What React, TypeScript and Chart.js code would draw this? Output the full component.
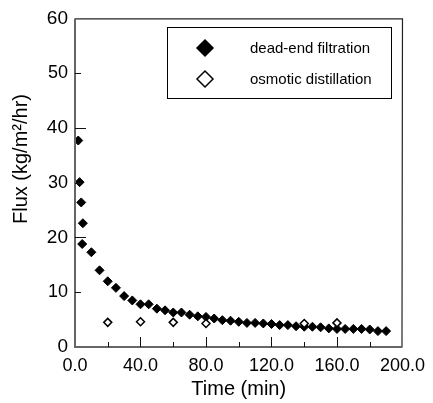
import React, { useEffect, useRef } from "react";
import { Chart, registerables } from "chart.js";

Chart.register(...registerables);

const seriesNames = ["dead-end filtration", "osmotic distillation"];

const deadEndTime = [2, 2.8, 3.8, 4.8, 4.4, 10, 15, 20, 25, 30, 35, 40, 45, 50, 55, 60, 65, 70, 75, 80, 85, 90, 95, 100, 105, 110, 115, 120, 125, 130, 135, 140, 145, 150, 155, 160, 165, 170, 175, 180, 185, 190];
const deadEndFlux = [37.7, 30.1, 26.4, 22.6, 18.8, 17.3, 14.0, 12.0, 10.8, 9.3, 8.5, 7.8, 7.8, 7.0, 6.7, 6.3, 6.3, 5.9, 5.6, 5.5, 5.2, 4.9, 4.8, 4.6, 4.4, 4.4, 4.3, 4.2, 4.0, 4.0, 3.8, 3.7, 3.7, 3.6, 3.4, 3.3, 3.3, 3.3, 3.3, 3.2, 2.9, 2.9];

const osmoticTime = [20, 40, 60, 80, 140, 160];
const osmoticFlux = [4.5, 4.6, 4.5, 4.3, 4.3, 4.4];

const xMin = 0, xMax = 200, xMajorStep = 40, xMinorStep = 20;
const yMin = 0, yMax = 60, yMajorStep = 20, yLabelStep = 10;

const xTitle = "Time (min)";
const yTitle = "Flux (kg/m\u00B2/hr)";

const FONT = "'Liberation Sans', Arial, Helvetica, sans-serif";

function diamond(ctx: CanvasRenderingContext2D, x: number, y: number, r: number, fill: string) {
  ctx.beginPath();
  ctx.moveTo(x, y - r);
  ctx.lineTo(x + r, y);
  ctx.lineTo(x, y + r);
  ctx.lineTo(x - r, y);
  ctx.closePath();
  ctx.fillStyle = fill;
  ctx.fill();
  ctx.lineWidth = 1.5;
  ctx.strokeStyle = "#000";
  ctx.stroke();
}

const framePlugin = {
  id: "frame",
  afterDatasetsDraw(chart: any) {
    const { ctx, chartArea, scales } = chart;
    const { left, right, top, bottom } = chartArea;
    const xs = scales.x, ys = scales.y;
    ctx.save();
    // frame
    ctx.strokeStyle = "#222";
    ctx.lineWidth = 1.2;
    ctx.beginPath();
    ctx.moveTo(left, top + 0.5);
    ctx.lineTo(right, top + 0.5);
    ctx.lineTo(right - 0.5, bottom);
    ctx.stroke();
    ctx.strokeStyle = "#666";
    ctx.lineWidth = 2;
    ctx.beginPath();
    ctx.moveTo(left, top);
    ctx.lineTo(left, bottom);
    ctx.lineTo(right, bottom);
    ctx.stroke();
    // inside ticks
    ctx.strokeStyle = "#111";
    ctx.lineWidth = 1;
    for (let v = xMin + xMinorStep; v < xMax; v += xMinorStep) {
      const px = Math.round(xs.getPixelForValue(v)) + 0.5;
      const len = v % xMajorStep === 0 ? 10 : 5;
      ctx.beginPath();
      ctx.moveTo(px, bottom);
      ctx.lineTo(px, bottom - len);
      ctx.stroke();
    }
    for (let v = yMin + yLabelStep; v < yMax; v += yLabelStep) {
      const py = Math.round(ys.getPixelForValue(v)) + 0.5;
      const len = v % yMajorStep === 0 ? 11 : 6;
      ctx.beginPath();
      ctx.moveTo(left, py);
      ctx.lineTo(left + len, py);
      ctx.stroke();
    }
    // y title
    ctx.save();
    ctx.translate(27, 159);
    ctx.rotate(-Math.PI / 2);
    ctx.font = `20px ${FONT}`;
    ctx.fillStyle = "#000";
    ctx.textAlign = "center";
    ctx.textBaseline = "alphabetic";
    ctx.fillText(yTitle, 0, 0);
    ctx.restore();
    // legend
    ctx.strokeStyle = "#000";
    ctx.lineWidth = 1;
    ctx.strokeRect(167.5, 27.5, 224, 71);
    const fills = ["#000", "#fff"];
    const ly = [48, 79];
    ctx.font = `15px ${FONT}`;
    ctx.textAlign = "left";
    ctx.textBaseline = "middle";
    for (let i = 0; i < seriesNames.length; i++) {
      diamond(ctx, 205, ly[i], 8, fills[i]);
      ctx.fillStyle = "#000";
      ctx.fillText(seriesNames[i], 250, ly[i] + 1);
    }
    ctx.restore();
  },
};

export default function App() {
  const ref = useRef<HTMLCanvasElement>(null);
  useEffect(() => {
    const canvas = ref.current!;
    const chart = new Chart(canvas, {
      type: "scatter",
      data: {
        datasets: [
          {
            label: seriesNames[0],
            data: deadEndTime.map((t, i) => ({ x: t, y: deadEndFlux[i] })),
            pointStyle: "rectRot",
            pointRadius: 4.5,
            backgroundColor: "#000",
            borderColor: "#000",
            borderWidth: 1,
            order: 2,
          },
          {
            label: seriesNames[1],
            data: osmoticTime.map((t, i) => ({ x: t, y: osmoticFlux[i] })),
            pointStyle: "rectRot",
            pointRadius: 4,
            backgroundColor: "#fff",
            borderColor: "#000",
            borderWidth: 1.5,
            order: 1,
          },
        ],
      },
      options: {
        responsive: false,
        animation: false,
        layout: { padding: { left: 0, right: 26, top: 16, bottom: 0 } },
        plugins: { legend: { display: false }, tooltip: { enabled: false } },
        scales: {
          x: {
            type: "linear",
            min: xMin,
            max: xMax,
            afterFit: (s: any) => { s.height = 56; },
            grid: { display: false, drawTicks: false },
            border: { display: false },
            ticks: {
              stepSize: xMajorStep,
              padding: 8,
              color: "#000",
              font: { family: FONT, size: 18 },
              maxRotation: 0,
              callback: (v: any) => Number(v).toFixed(1),
            },
            title: {
              display: true,
              text: xTitle,
              color: "#000",
              font: { family: FONT, size: 20 },
              padding: { top: 0, bottom: 2 },
            },
          },
          y: {
            type: "linear",
            min: yMin,
            max: yMax,
            afterFit: (s: any) => { s.width = 75; },
            grid: { display: false, drawTicks: false },
            border: { display: false },
            ticks: {
              stepSize: yLabelStep,
              padding: 7,
              color: "#000",
              font: (c: any) => ({ family: FONT, size: c.tick && c.tick.value % yMajorStep === 0 ? 19 : 18 }),
            },
          },
        },
      },
      plugins: [framePlugin],
    } as any);
    return () => chart.destroy();
  }, []);
  return (
    <div style={{ position: "fixed", left: 0, top: 0, width: 433, height: 403, background: "#fff" }}>
      <canvas ref={ref} width={433} height={403} />
    </div>
  );
}
